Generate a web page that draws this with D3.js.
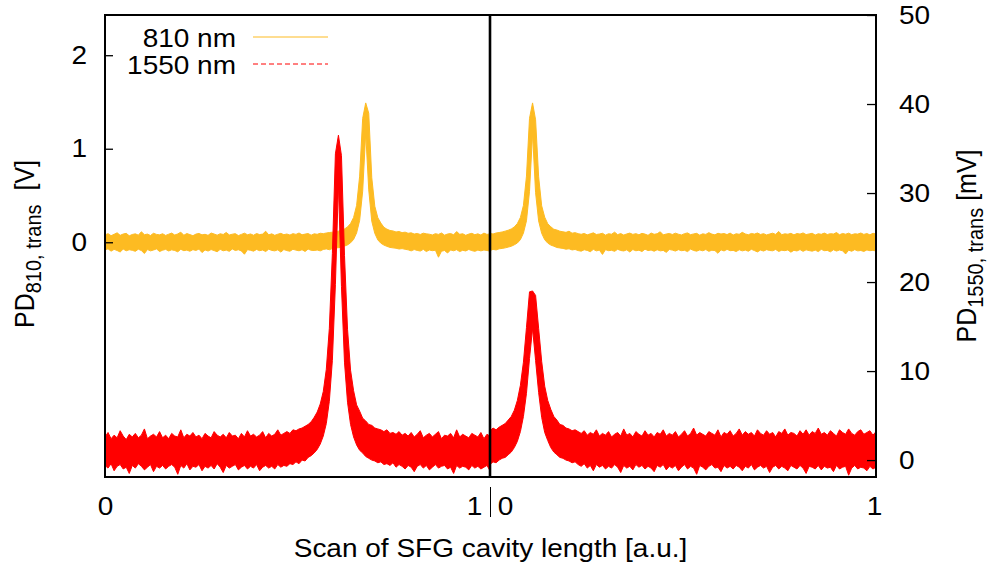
<!DOCTYPE html>
<html>
<head>
<meta charset="utf-8">
<script src="https://cdn.jsdelivr.net/npm/d3@7"></script>
<style>
  body { margin: 0; background: #fff; }
  svg { display: block; }
  text { font-family: "Liberation Sans", Arial, Helvetica, sans-serif; fill: #000; }
</style>
</head>
<body>
<svg id="chart" width="988" height="567"></svg>
<script>
// ---- Transmission traces, binned as per-bin min / max envelopes -------------
// Each array holds 128 bins spanning one cavity scan (0 .. 1 a.u.).
// PD 810 nm values are in mV (plotted on the left axis in V).
const pd810Scan1Hi = [
  78, 92, 70, 85, 101, 74, 88, 95, 69, 83,
  90, 76, 112, 81, 87, 72, 96, 84, 79, 91,
  73, 86, 98, 77, 89, 108, 75, 93, 82, 70,
  87, 94, 79, 85, 74, 99, 88, 76, 91, 83,
  105, 78, 86, 92, 71, 84, 97, 80, 89, 75,
  93, 82, 87, 118, 79, 90, 74, 86, 95, 81,
  88, 77, 92, 84, 99, 80, 87, 93, 76, 90,
  85, 96, 92, 99, 104, 108, 113, 119, 129, 142,
  164, 200, 265, 394, 707, 1325, 1490, 1380, 690, 385,
  262, 205, 160, 140, 126, 121, 110, 115, 103, 108,
  96, 101, 88, 94, 83, 97, 90, 86, 78, 92,
  84, 99, 76, 88, 93, 80, 114, 85, 91, 74,
  87, 95, 81, 90, 77, 98, 84, 89
];
const pd810Scan1Lo = [
  -82, -70, -95, -76, -88, -104, -73, -91, -80, -86,
  -97, -74, -89, -120, -78, -92, -83, -71, -99, -85,
  -76, -93, -81, -88, -102, -75, -90, -84, -96, -79,
  -87, -73, -110, -82, -94, -78, -89, -101, -76, -91,
  -84, -97, -72, -88, -80, -93, -128, -79, -86, -95,
  -77, -90, -83, -99, -74, -87, -92, -81, -105, -78,
  -89, -96, -75, -84, -91, -80, -98, -73, -86, -88,
  -83, -92, -77, -71, -80, -68, -62, -58, -51, -41,
  -28, -6, 30, 100, 234, 547, 1170, 560, 225, 95,
  25, -10, -30, -44, -55, -60, -64, -72, -68, -75,
  -81, -92, -78, -87, -94, -76, -99, -83, -90, -85,
  -160, -96, -88, -115, -82, -91, -79, -100, -86, -93,
  -77, -89, -97, -84, -92, -83, -88, -95
];
const pd810Scan2Hi = [
  95, 88, 99, 104, 110, 119, 129, 142, 164, 200,
  265, 394, 707, 1325, 1490, 1310, 700, 390, 268, 198,
  166, 139, 131, 118, 112, 106, 118, 97, 103, 92,
  85, 94, 79, 90, 101, 83, 88, 96, 76, 91,
  86, 108, 81, 93, 77, 89, 98, 84, 92, 80,
  95, 87, 74, 99, 85, 91, 112, 79, 88, 94,
  83, 97, 86, 78, 92, 100, 81, 89, 95, 76,
  90, 84, 103, 87, 79, 96, 88, 93, 82, 98,
  77, 91, 85, 106, 89, 80, 94, 87, 99, 83,
  92, 78, 88, 97, 84, 115, 81, 90, 86, 95,
  79, 93, 87, 100, 82, 89, 96, 77, 91, 85,
  98, 83, 92, 88, 104, 80, 94, 86, 97, 81,
  90, 87, 99, 84, 93, 79, 96, 88
];
const pd810Scan2Lo = [
  -88, -76, -82, -70, -66, -60, -52, -43, -27, -8,
  28, 98, 230, 545, 1165, 530, 228, 96, 27, -9,
  -30, -42, -56, -61, -66, -74, -70, -82, -77, -89,
  -95, -80, -87, -101, -76, -92, -84, -130, -79, -90,
  -86, -97, -75, -88, -93, -81, -104, -78, -91, -85,
  -99, -74, -89, -83, -96, -80, -92, -87, -108, -77,
  -84, -94, -79, -90, -86, -100, -73, -88, -95, -82,
  -91, -78, -97, -85, -89, -118, -81, -93, -76, -90,
  -87, -99, -80, -92, -84, -96, -75, -89, -103, -83,
  -94, -79, -88, -91, -77, -98, -85, -90, -82, -106,
  -86, -93, -78, -97, -81, -89, -95, -84, -100, -76,
  -90, -87, -102, -80, -94, -83, -91, -125, -85, -96,
  -79, -92, -88, -98, -82, -90, -86, -94
];
// PD 1550 nm values are in mV (right axis).
const pd1550Scan1Hi = [
  2.6, 3.1, 2.4, 2.8, 2.5, 3.3, 2.7, 2.3, 2.9, 2.6,
  3.0, 2.5, 2.8, 3.5, 2.4, 2.7, 2.9, 2.6, 3.2, 2.5,
  2.8, 2.4, 3.0, 2.7, 2.6, 3.4, 2.5, 2.9, 2.7, 3.1,
  2.6, 2.8, 2.4, 3.0, 2.7, 2.5, 3.2, 2.8, 2.6, 2.9,
  2.5, 3.1, 2.7, 2.8, 2.4, 3.0, 2.6, 3.3, 2.7, 2.9,
  2.6, 2.8, 3.2, 2.5, 3.0, 2.7, 2.9, 3.4, 2.8, 3.0,
  3.2, 3.0, 3.4, 3.3, 3.5, 3.6, 3.8, 4.0, 4.3, 4.8,
  5.4, 6.3, 7.7, 10.2, 14.8, 23.2, 34.4, 36.5, 34.2, 23.0,
  14.7, 10.1, 7.8, 6.2, 5.5, 4.7, 4.4, 4.0, 3.9, 3.6,
  3.5, 3.4, 3.2, 3.4, 3.0, 3.1, 2.9, 3.2, 2.8, 3.0,
  2.7, 3.1, 2.6, 2.9, 3.3, 2.5, 2.8, 3.0, 2.6, 2.9,
  3.2, 2.4, 2.8, 2.7, 3.0, 2.5, 3.4, 2.6, 2.9, 2.7,
  2.5, 3.0, 2.8, 2.6, 3.1, 2.4, 2.9, 2.7
];
const pd1550Scan1Lo = [
  -0.6, -0.9, -0.4, -1.2, -0.7, -0.5, -1.0, -0.8, -1.5, -0.6,
  -0.9, -0.4, -0.7, -1.1, -0.8, -0.5, -1.3, -0.7, -0.9, -0.6,
  -1.0, -0.7, -0.5, -0.8, -1.6, -0.6, -0.9, -0.4, -1.1, -0.7,
  -0.8, -0.5, -1.2, -0.7, -0.9, -0.6, -1.0, -0.4, -0.8, -1.4,
  -0.6, -0.9, -0.7, -0.5, -1.1, -0.8, -0.6, -1.0, -0.7, -0.9,
  -0.5, -1.2, -0.8, -0.6, -0.9, -0.7, -1.0, -0.5, -0.8, -0.6,
  -0.7, -0.4, -0.5, -0.2, -0.4, 0.0, -0.1, 0.3, 0.5, 0.8,
  1.2, 1.8, 2.7, 4.1, 6.6, 11.2, 19.7, 31.0, 19.5, 11.0,
  6.5, 4.0, 2.6, 1.7, 1.1, 0.8, 0.4, 0.2, 0.0, -0.1,
  -0.3, -0.2, -0.5, -0.4, -0.6, -0.3, -0.8, -0.5, -0.7, -1.0,
  -0.6, -0.8, -1.3, -0.7, -0.5, -0.9, -0.6, -1.1, -0.8, -0.5,
  -0.9, -0.7, -0.6, -1.0, -0.8, -1.5, -0.6, -0.9, -0.7, -0.8,
  -1.1, -0.6, -0.9, -0.7, -1.0, -0.8, -0.6, -1.2
];
const pd1550Scan2Hi = [
  3.3, 3.6, 3.4, 3.7, 3.9, 4.1, 4.5, 4.9, 5.6, 6.7,
  8.4, 11.0, 14.9, 18.9, 19.0, 18.5, 14.8, 11.1, 8.3, 6.7,
  5.7, 4.9, 4.5, 4.0, 3.9, 3.6, 3.5, 3.3, 3.4, 3.2,
  3.0, 3.3, 2.8, 3.1, 2.9, 3.4, 2.7, 3.0, 2.8, 3.2,
  2.6, 2.9, 3.1, 2.7, 3.5, 2.8, 3.0, 2.6, 3.2, 2.9,
  2.7, 3.3, 2.8, 3.0, 2.6, 3.1, 2.9, 3.4, 2.7, 3.0,
  2.8, 3.2, 2.6, 2.9, 3.3, 2.7, 3.0, 3.6, 2.8, 3.1,
  2.9, 2.7, 3.2, 3.0, 2.8, 3.4, 2.6, 3.1, 2.9, 3.3,
  2.7, 3.0, 3.5, 2.8, 3.2, 2.9, 3.1, 2.7, 3.4, 3.0,
  2.8, 3.3, 2.9, 3.1, 2.6, 3.2, 3.0, 3.5, 2.8, 3.1,
  3.0, 2.7, 3.3, 2.9, 3.4, 2.8, 3.2, 3.0, 3.6, 2.9,
  3.1, 2.8, 3.3, 3.0, 2.7, 3.4, 3.1, 2.9, 3.5, 3.0,
  2.8, 3.2, 3.4, 2.9, 3.1, 3.3, 2.8, 3.2
];
const pd1550Scan2Lo = [
  -0.5, -0.2, -0.3, 0.0, 0.2, 0.3, 0.6, 0.9, 1.4, 2.1,
  3.2, 4.9, 7.5, 11.4, 14.8, 11.2, 7.6, 4.8, 3.1, 2.2,
  1.4, 0.9, 0.6, 0.3, 0.2, 0.0, -0.1, -0.3, -0.2, -0.5,
  -0.7, -0.4, -0.9, -0.6, -1.2, -0.5, -0.8, -0.6, -1.0, -0.7,
  -0.9, -0.5, -0.8, -1.4, -0.6, -0.9, -0.7, -1.1, -0.5, -0.8,
  -0.6, -1.0, -0.7, -0.9, -1.3, -0.6, -0.8, -0.5, -1.1, -0.7,
  -0.9, -0.6, -1.2, -0.8, -0.5, -1.0, -0.7, -0.9, -1.6, -0.6,
  -0.8, -1.1, -0.7, -0.5, -0.9, -0.8, -1.3, -0.6, -0.9, -0.7,
  -1.0, -0.6, -0.8, -1.2, -0.7, -0.9, -0.5, -1.1, -0.8, -0.6,
  -0.9, -0.7, -1.4, -0.8, -0.6, -1.0, -0.7, -0.9, -1.2, -0.6,
  -0.8, -1.0, -0.6, -0.9, -1.5, -0.7, -0.8, -1.0, -0.6, -1.1,
  -0.7, -0.9, -0.8, -1.3, -0.6, -1.0, -0.8, -0.7, -1.7, -0.9,
  -0.6, -1.0, -0.8, -0.9, -1.2, -0.7, -1.0, -0.8
];

// ---- Axis ticks and labels ---------------------------------------------------
const leftTicks = [0, 1, 2];                    // V
const rightTicks = [0, 10, 20, 30, 40, 50];     // mV
const scanTicks = [0, 1];                       // a.u., per scan
const seriesNames = ["810 nm", "1550 nm"];
const xTitle = "Scan of SFG cavity length [a.u.]";

// ---- Layout ------------------------------------------------------------------
const plot = { left: 105, right: 876, top: 15, bottom: 477, split: 490 };
const FONT = 25;      // px
const SX = 1.12;      // horizontal glyph stretch
const colors = { nm810: "#FDBB22", nm1550: "#FF0000" };

const svg = d3.select("#chart");

const xScan1 = d3.scaleLinear().domain([0, 1]).range([plot.left, plot.split]);
const xScan2 = d3.scaleLinear().domain([0, 1]).range([plot.split, plot.right]);
const yVolt = d3.scaleLinear().domain([-2.51, 2.43]).range([plot.bottom, plot.top]);
const yMilli = d3.scaleLinear().domain([-1.9, 50]).range([plot.bottom, plot.top]);

// Puts a text element at its x/y with a horizontal glyph stretch.
function stretchText(sel) {
  sel.each(function () {
    const t = d3.select(this);
    const x = +t.attr("x") || 0, y = +t.attr("y") || 0;
    t.attr("x", null).attr("y", null)
     .attr("transform", `translate(${x},${y}) scale(${SX},1)`);
  });
}

// ---- Traces ------------------------------------------------------------------
svg.append("clipPath").attr("id", "plotClip")
  .append("rect")
  .attr("x", plot.left).attr("y", plot.top)
  .attr("width", plot.right - plot.left).attr("height", plot.bottom - plot.top);

const traceLayer = svg.append("g").attr("clip-path", "url(#plotClip)");

function toBins(hi, lo, unit) {
  const n = hi.length;
  return d3.range(n).map(i => ({ t: i / (n - 1), hi: hi[i] * unit, lo: lo[i] * unit }));
}

const traces = [
  { bins: toBins(pd810Scan1Hi, pd810Scan1Lo, 0.001), x: xScan1, y: yVolt, color: colors.nm810 },
  { bins: toBins(pd810Scan2Hi, pd810Scan2Lo, 0.001), x: xScan2, y: yVolt, color: colors.nm810 },
  { bins: toBins(pd1550Scan1Hi, pd1550Scan1Lo, 1), x: xScan1, y: yMilli, color: colors.nm1550 },
  { bins: toBins(pd1550Scan2Hi, pd1550Scan2Lo, 1), x: xScan2, y: yMilli, color: colors.nm1550 }
];

traces.forEach(tr => {
  const band = d3.area()
    .x(d => tr.x(d.t))
    .y0(d => tr.y(d.lo))
    .y1(d => tr.y(d.hi));
  traceLayer.append("path")
    .datum(tr.bins)
    .attr("d", band)
    .attr("fill", tr.color)
    .attr("stroke", tr.color)
    .attr("stroke-width", 1);
});

// ---- Frame and scan divider ------------------------------------------------
svg.append("rect")
  .attr("x", plot.left).attr("y", plot.top)
  .attr("width", plot.right - plot.left).attr("height", plot.bottom - plot.top)
  .attr("fill", "none").attr("stroke", "#000").attr("stroke-width", 2);

svg.append("line")
  .attr("x1", plot.split).attr("x2", plot.split)
  .attr("y1", plot.top).attr("y2", plot.bottom)
  .attr("stroke", "#000").attr("stroke-width", 2.6);

// ---- Axes --------------------------------------------------------------------
function styleAxis(g) {
  g.select(".domain").remove();
  g.attr("font-family", null).attr("font-size", FONT);
  g.selectAll(".tick line").attr("stroke", "#000").attr("stroke-width", 1.3);
  g.selectAll(".tick text").attr("fill", "#000");
}

const gLeft = svg.append("g")
  .attr("transform", `translate(${plot.left},0)`)
  .call(d3.axisLeft(yVolt).tickValues(leftTicks).tickFormat(d3.format("d"))
    .tickSize(-8).tickPadding(18));
styleAxis(gLeft);

const gRight = svg.append("g")
  .attr("transform", `translate(${plot.right},0)`)
  .call(d3.axisRight(yMilli).tickValues(rightTicks).tickFormat(d3.format("d"))
    .tickSize(-9).tickPadding(23));
styleAxis(gRight);

const gBottom1 = svg.append("g")
  .attr("transform", `translate(0,${plot.bottom})`)
  .call(d3.axisBottom(xScan1).tickValues(scanTicks).tickFormat(d3.format("d"))
    .tickSize(0).tickPadding(20));
styleAxis(gBottom1);

const gBottom2 = svg.append("g")
  .attr("transform", `translate(0,${plot.bottom})`)
  .call(d3.axisBottom(xScan2).tickValues(scanTicks).tickFormat(d3.format("d"))
    .tickSize(0).tickPadding(20));
styleAxis(gBottom2);

// The shared "1 | 0" position: end of scan 1 and start of scan 2.
gBottom1.selectAll(".tick text").filter(d => d === 1).attr("x", -16);
gBottom2.selectAll(".tick text").filter(d => d === 0).attr("x", 15);
gBottom2.selectAll(".tick text").filter(d => d === 1).attr("x", -2);

[gLeft, gRight, gBottom1, gBottom2].forEach(g => stretchText(g.selectAll(".tick text")));

svg.append("line")
  .attr("x1", plot.split + 0.5).attr("x2", plot.split + 0.5)
  .attr("y1", 487).attr("y2", 517)
  .attr("stroke", "#000").attr("stroke-width", 1);

// ---- Axis titles -------------------------------------------------------------
svg.append("text")
  .attr("x", (plot.left + plot.right) / 2).attr("y", 557)
  .attr("text-anchor", "middle").attr("font-size", FONT)
  .text(xTitle)
  .call(stretchText);

function yTitle(x, y, sub, tail) {
  const t = svg.append("text")
    .attr("transform", `translate(${x},${y}) scale(${SX},1) rotate(-90)`)
    .attr("text-anchor", "middle").attr("font-size", FONT);
  t.append("tspan").text("PD");
  t.append("tspan").attr("font-size", FONT * 0.8).attr("dy", 6).text(sub);
  t.append("tspan").attr("dy", -6).text(tail);
}
yTitle(34, 244, "810, trans", "\u00a0\u00a0[V]");
yTitle(976, 246, "1550, trans", "\u00a0[mV]");

// ---- Legend ------------------------------------------------------------------
const legend = svg.append("g");
const legendRows = [
  { name: seriesNames[0], color: colors.nm810, dash: null, y: 47, ly: 37 },
  { name: seriesNames[1], color: colors.nm1550, dash: "5,3", y: 74, ly: 64 }
];
legendRows.forEach(r => {
  legend.append("text")
    .attr("x", 236).attr("y", r.y)
    .attr("text-anchor", "end").attr("font-size", FONT)
    .text(r.name)
    .call(stretchText);
  legend.append("line")
    .attr("x1", 253).attr("x2", 328)
    .attr("y1", r.ly).attr("y2", r.ly)
    .attr("stroke", r.color).attr("stroke-width", 1)
    .attr("stroke-dasharray", r.dash);
});
</script>
</body>
</html>
